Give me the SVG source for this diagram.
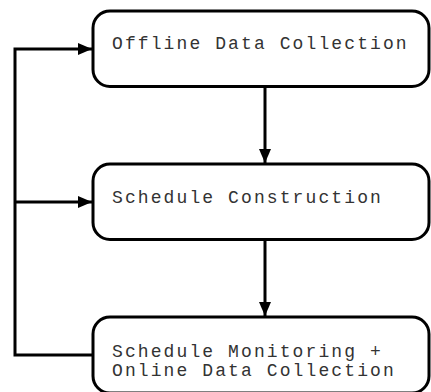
<svg xmlns="http://www.w3.org/2000/svg" width="431" height="392" viewBox="0 0 431 392">
<style>
.box{fill:#fff;stroke:#000;stroke-width:3}
.lbl{font-family:"Liberation Mono","Courier New",monospace;font-size:18px;letter-spacing:2.1px;fill:#333}
.ln{fill:none;stroke:#000;stroke-width:3}
</style>
<defs>
<marker id="ah" viewBox="0 0 14 12" refX="14" refY="6" markerWidth="14" markerHeight="12" markerUnits="userSpaceOnUse" orient="auto">
<path d="M0,0 L14,6 L0,12 Z" fill="#000"/>
</marker>
</defs>
<rect width="431" height="392" fill="#fff"/>
<g id="n1"><rect class="box" x="93" y="11" width="336" height="75.5" rx="17"/><text class="lbl" x="112" y="49">Offline Data Collection</text></g>
<g id="n2"><rect class="box" x="93" y="164" width="336" height="75.5" rx="17"/><text class="lbl" x="112" y="203">Schedule Construction</text></g>
<g id="n3"><rect class="box" x="93" y="317" width="336" height="76" rx="17"/><text class="lbl" x="112" y="357">Schedule Monitoring +</text><text class="lbl" x="112" y="376">Online Data Collection</text></g>
<g id="connectors">
<path class="ln" d="M265,86.5 V163" marker-end="url(#ah)"/>
<path class="ln" d="M265,239.5 V316" marker-end="url(#ah)"/>
<path class="ln" d="M93,355 H15 V49 H92" marker-end="url(#ah)"/>
<path class="ln" d="M15,202 H92" marker-end="url(#ah)"/>
</g>
</svg>
